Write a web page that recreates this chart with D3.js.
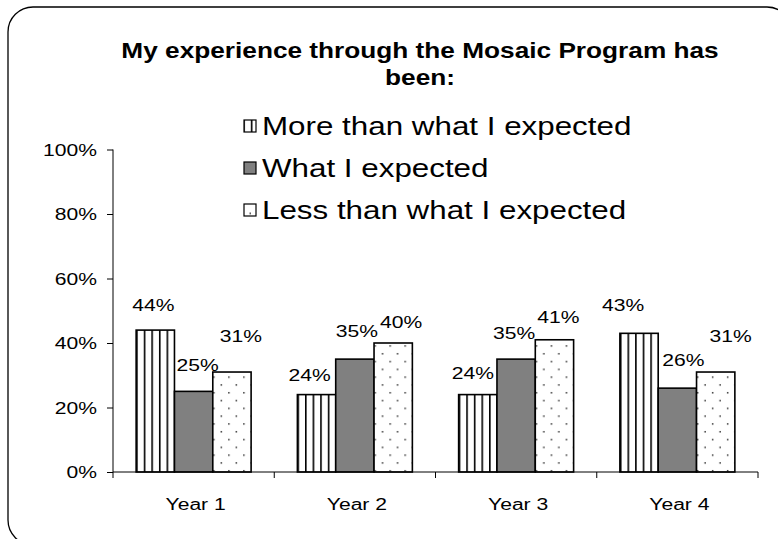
<!DOCTYPE html>
<html>
<head>
<meta charset="utf-8">
<script src="https://cdn.jsdelivr.net/npm/d3@7"></script>
<style>
  html, body { margin: 0; padding: 0; background: #fff; }
  svg { display: block; }
  text { font-family: "Liberation Sans", Arial, sans-serif; fill: #000; }
</style>
</head>
<body>
<svg id="chart" width="778" height="539"></svg>
<script>
// ---- data ----
const categories = ["Year 1", "Year 2", "Year 3", "Year 4"];
const seriesNames = ["More than what I expected", "What I expected", "Less than what I expected"];
const moreThanExpected = [0.44, 0.24, 0.24, 0.43];
const whatExpected     = [0.25, 0.35, 0.35, 0.26];
const lessThanExpected = [0.31, 0.40, 0.41, 0.31];
const yTicks = [0, 0.2, 0.4, 0.6, 0.8, 1.0];
const titleLines = ["My experience through the Mosaic Program has", "been:"];

// label nudges (layout only): [dx, dy] per series per category
const labelNudge = [
  [[-2, -19], [-7, -14], [-5, -16], [-16, -22]],
  [[4, -20], [2, -22], [-2, -20], [6, -22]],
  [[9, -30], [8, -15], [4, -17], [15, -30]]
];

const seriesValues = [moreThanExpected, whatExpected, lessThanExpected];
const SX = 1.22; // horizontal text stretch

const svg = d3.select("#chart");
const defs = svg.append("defs");

// vertical stripes pattern
const pv = defs.append("pattern").attr("id", "pVert").attr("patternUnits", "userSpaceOnUse")
  .attr("width", 7.6).attr("height", 10);
pv.append("rect").attr("width", 7.6).attr("height", 10).attr("fill", "#fff");
pv.append("rect").attr("x", 0).attr("y", 0).attr("width", 1.6).attr("height", 10).attr("fill", "#000");

// dotted pattern
const pd = defs.append("pattern").attr("id", "pDots").attr("patternUnits", "userSpaceOnUse")
  .attr("width", 15).attr("height", 15.6);
pd.append("rect").attr("width", 15).attr("height", 15.6).attr("fill", "#fff");
pd.append("rect").attr("x", 2).attr("y", 2).attr("width", 1.5).attr("height", 1.5).attr("fill", "#333");
pd.append("rect").attr("x", 9.5).attr("y", 9.8).attr("width", 1.5).attr("height", 1.5).attr("fill", "#333");

const fills = ["url(#pVert)", "#808080", "url(#pDots)"];

// border
svg.append("rect").attr("x", 8).attr("y", 7).attr("width", 784).attr("height", 538)
  .attr("rx", 25).attr("ry", 25).attr("fill", "#fff").attr("stroke", "#000").attr("stroke-width", 1.3);

const x0 = 113, x1 = 758, yBase = 472, yTop = 149.5;

const x = d3.scaleBand().domain(categories).range([x0, x1]).paddingInner(0.287).paddingOuter(0.1435);
const xs = d3.scaleBand().domain([0, 1, 2]).range([0, x.bandwidth()]);
const y = d3.scaleLinear().domain([0, 1]).range([yBase, yTop]);

function stretchedText(sel, px, py, str, size, anchor, weight) {
  return sel.append("text")
    .attr("transform", `translate(${px},${py}) scale(${SX},1)`)
    .attr("text-anchor", anchor || "start")
    .attr("font-size", size)
    .attr("font-weight", weight || "normal")
    .text(str);
}

// title
titleLines.forEach((t, i) => stretchedText(svg, 420, 58 + i * 27, t, 21.5, "middle", "bold"));

// y axis
const yAxis = svg.append("g").attr("transform", `translate(${x0},0)`)
  .call(d3.axisLeft(y).tickValues(yTicks).tickSize(6).tickFormat(() => ""));
yAxis.select(".domain").attr("stroke", "#000").attr("d", `M0,${yTop}V${yBase}`);
yAxis.selectAll(".tick line").attr("stroke", "#000");
yTicks.forEach(v => stretchedText(svg, 97, y(v) + 6, d3.format(".0%")(v), 17.3, "end"));

// bars
const groups = svg.append("g").selectAll("g").data(categories).join("g")
  .attr("transform", d => `translate(${x(d)},0)`);
seriesValues.forEach((vals, si) => {
  groups.append("rect")
    .attr("x", xs(si))
    .attr("y", (d, ci) => y(vals[ci]))
    .attr("width", xs.bandwidth())
    .attr("height", (d, ci) => yBase - y(vals[ci]))
    .attr("fill", fills[si])
    .attr("stroke", "#000").attr("stroke-width", 1.6);
});

// x axis
const xAxisG = svg.append("g").attr("transform", `translate(0,${yBase})`);
xAxisG.append("line").attr("x1", x0).attr("x2", x1).attr("stroke", "#000");
const step = x.step();
d3.range(categories.length + 1).forEach(i => {
  const tx = x0 + i * step;
  xAxisG.append("line").attr("x1", tx).attr("x2", tx).attr("y1", 0).attr("y2", 6).attr("stroke", "#000");
});
categories.forEach(c => stretchedText(svg, x(c) + x.bandwidth() / 2 + 2, 510, c, 17.3, "middle"));

// data labels
seriesValues.forEach((vals, si) => {
  categories.forEach((c, ci) => {
    const cx = x(c) + xs(si) + xs.bandwidth() / 2 + labelNudge[si][ci][0];
    const cy = y(vals[ci]) + labelNudge[si][ci][1];
    stretchedText(svg, cx, cy, d3.format(".0%")(vals[ci]), 17.3, "middle");
  });
});

// legend
const legY = [135, 177, 219];
seriesNames.forEach((n, i) => {
  svg.append("rect").attr("x", 244).attr("y", legY[i] - 15).attr("width", 12).attr("height", 12)
    .attr("fill", fills[i]).attr("stroke", "#000").attr("stroke-width", 1.2);
  stretchedText(svg, 262, legY[i], n, 25.7, "start");
});
</script>
</body>
</html>
